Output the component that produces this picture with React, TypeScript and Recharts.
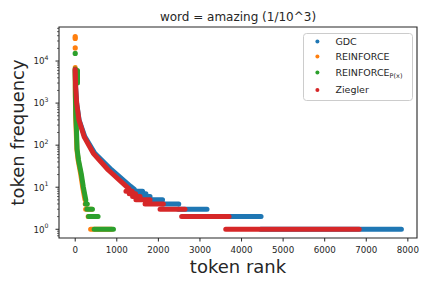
import {
  ComposedChart,
  Line,
  Scatter,
  XAxis,
  YAxis,
  ReferenceArea,
  Legend,
  Label,
} from "recharts";

const TITLE = "word = amazing (1/10^3)";
const INK = "#262626";
const FONT = "DejaVu Sans";

const xTicks = [0, 1000, 2000, 3000, 4000, 5000, 6000, 7000, 8000];
const yTicks = [
  0.7, 0.8, 0.9, 1, 2, 3, 4, 5, 6, 7, 8, 9, 10, 20, 30, 40, 50, 60, 70, 80, 90,
  100, 200, 300, 400, 500, 600, 700, 800, 900, 1000, 2000, 3000, 4000, 5000,
  6000, 7000, 8000, 9000, 10000, 20000, 30000, 40000, 50000, 60000,
];

// GDC
const gdcCurveRank = [0, 10, 35, 95, 230, 470, 870, 1330, 1420];
const gdcCurveFreq = [6000, 2400, 980, 390, 160, 64, 26, 10.5, 9];
const gdcStepFreq = [8, 7, 6, 5, 4, 3, 2, 1];
const gdcStepStart = [1400, 1500, 1600, 1780, 2090, 2480, 3160, 4460];
const gdcStepEnd = [1620, 1700, 1800, 2100, 2490, 3170, 4470, 7845];

// REINFORCE
const rfCurveRank = [0, 3, 12, 25, 40, 70, 130, 180, 235];
const rfCurveFreq = [7000, 1400, 440, 200, 80, 44, 21, 10, 5];
const rfStepFreq = [4, 3, 2, 1];
const rfStepStart = [240, 250, 310, 370];
const rfStepEnd = [280, 400, 520, 880];
const rfOutlierRank = [0, 0, 0];
const rfOutlierFreq = [38000, 34500, 20500];

// REINFORCE P(x)
const pxCurveRank = [0, 5, 15, 30, 45, 80, 145, 195, 255];
const pxCurveFreq = [6500, 1500, 500, 230, 80, 44, 21, 10, 5];
const pxStepFreq = [4, 3, 2, 1];
const pxStepStart = [250, 280, 320, 455];
const pxStepEnd = [290, 415, 550, 920];
const pxExtraRank = [55, 55];
const pxExtraFreq = [6000, 3000];
const pxOutlierRank = [0];
const pxOutlierFreq = [15200];

// Ziegler
const zieCurveRank = [0, 10, 35, 90, 215, 435, 795, 1235, 1300];
const zieCurveFreq = [6300, 2450, 990, 395, 158, 64, 25.7, 10.3, 9];
const zieStepFreq = [8, 7, 6, 5, 4, 3, 2, 1];
const zieStepStart = [1220, 1300, 1380, 1460, 1680, 2040, 2560, 3620];
const zieStepEnd = [1370, 1450, 1560, 1800, 2120, 2640, 3700, 6830];

const legendItems = [
  { name: "GDC", sub: "", color: "#1f77b4" },
  { name: "REINFORCE", sub: "", color: "#ff7f0e" },
  { name: "REINFORCE", sub: "P(x)", color: "#2ca02c" },
  { name: "Ziegler", sub: "", color: "#d62728" },
];

type Pt = { rank: number; f: number | null };

function build(
  curveRank: number[],
  curveFreq: number[],
  stepFreq: number[],
  stepStart: number[],
  stepEnd: number[],
  extraRank: number[] = [],
  extraFreq: number[] = []
): Pt[] {
  const pts: Pt[] = curveRank.map((r, i) => ({ rank: r, f: curveFreq[i] }));
  stepFreq.forEach((f, i) => {
    pts.push({ rank: stepStart[i], f: null });
    pts.push({ rank: stepStart[i], f });
    pts.push({ rank: stepEnd[i], f });
  });
  if (extraRank.length) {
    pts.push({ rank: extraRank[0], f: null });
    extraRank.forEach((r, i) => pts.push({ rank: r, f: extraFreq[i] }));
  }
  return pts;
}

const gdcData = build(gdcCurveRank, gdcCurveFreq, gdcStepFreq, gdcStepStart, gdcStepEnd);
const rfData = build(rfCurveRank, rfCurveFreq, rfStepFreq, rfStepStart, rfStepEnd);
const pxData = build(pxCurveRank, pxCurveFreq, pxStepFreq, pxStepStart, pxStepEnd, pxExtraRank, pxExtraFreq);
const zieData = build(zieCurveRank, zieCurveFreq, zieStepFreq, zieStepStart, zieStepEnd);
const rfOutliers = rfOutlierRank.map((r, i) => ({ rank: r, f: rfOutlierFreq[i] }));
const pxOutliers = pxOutlierRank.map((r, i) => ({ rank: r, f: pxOutlierFreq[i] }));

const YTick = (props: any) => {
  const { x, y, payload } = props;
  const lg = Math.log10(payload.value);
  const exp = Math.round(lg);
  const major = Math.abs(lg - exp) < 1e-6;
  return (
    <g>
      <line x1={x} x2={x - (major ? 3.5 : 2)} y1={y} y2={y} stroke={INK} strokeWidth={major ? 1 : 0.7} />
      {major && (
        <text x={x - 10.5} y={y + 3.3} textAnchor="end" fill={INK} fontSize={8.7} fontFamily={FONT}>
          10
          <tspan dy={-4.2} fontSize={6.2}>{exp}</tspan>
        </text>
      )}
    </g>
  );
};

const XTick = (props: any) => {
  const { x, y, payload } = props;
  return (
    <g>
      <line x1={x} x2={x} y1={y} y2={y + 3.5} stroke={INK} strokeWidth={1} />
      <text x={x} y={y + 15.2} textAnchor="middle" fill={INK} fontSize={8.7} fontFamily={FONT}>
        {payload.value}
      </text>
    </g>
  );
};

const Dot = (color: string) => (props: any) =>
  <circle cx={props.cx} cy={props.cy} r={2.6} fill={color} />;

const renderLegend = () => (
  <svg width={110} height={68}>
    <rect x={0.5} y={0.5} width={109} height={67} rx={3} fill="#fff" fillOpacity={0.8} stroke="#cccccc" />
    {legendItems.map((it, i) => {
      const dotY = [8.6, 23.6, 39.6, 57][i];
      const baseY = [12, 26.6, 42.6, 59.6][i];
      return (
        <g key={i}>
          <circle cx={14.4} cy={dotY} r={2} fill={it.color} />
          <text x={32.4} y={baseY} fill={INK} fontSize={9.5} fontFamily={FONT}>
            {it.name}
            {it.sub && (
              <tspan dy={2} fontSize={6.5}>{it.sub}</tspan>
            )}
          </text>
        </g>
      );
    })}
  </svg>
);

const series = (data: Pt[], color: string, name: string) => (
  <Line
    data={data}
    dataKey="f"
    name={name}
    type="linear"
    stroke={color}
    strokeWidth={5}
    strokeLinecap="round"
    strokeLinejoin="round"
    dot={false}
    activeDot={false}
    isAnimationActive={false}
  />
);

export default function App() {
  return (
    <div>
      <style>{"body{margin:0}"}</style>
      <ComposedChart width={432} height={288} margin={{ top: 27, right: 15, bottom: 0, left: 0 }}>
        <XAxis
          type="number"
          dataKey="rank"
          domain={[-390, 8220]}
          ticks={xTicks}
          interval={0}
          allowDataOverflow
          axisLine={false}
          tickLine={false}
          tickSize={0}
          tickMargin={0}
          tick={<XTick />}
          height={50}
        >
          <Label
            content={(p: any) => (
              <text
                x={p.viewBox.x + p.viewBox.width / 2}
                y={p.viewBox.y + 34.7}
                textAnchor="middle"
                fill={INK}
                fontSize={18}
                fontFamily={FONT}
              >
                token rank
              </text>
            )}
          />
        </XAxis>
        <YAxis
          type="number"
          scale="log"
          domain={[0.62, 64500]}
          ticks={yTicks}
          interval={0}
          allowDataOverflow
          axisLine={false}
          tickLine={false}
          tickSize={0}
          tickMargin={0}
          tick={<YTick />}
          width={59}
        >
          <Label
            content={(p: any) => {
              const cx = 23.5;
              const cy = p.viewBox.y + p.viewBox.height / 2;
              return (
                <text
                  x={cx}
                  y={cy}
                  transform={`rotate(-90, ${cx}, ${cy})`}
                  textAnchor="middle"
                  fill={INK}
                  fontSize={18}
                  fontFamily={FONT}
                >
                  token frequency
                </text>
              );
            }}
          />
        </YAxis>
        {series(gdcData, legendItems[0].color, "GDC")}
        {series(rfData, legendItems[1].color, "REINFORCE")}
        {series(pxData, legendItems[2].color, "REINFORCE P(x)")}
        {series(zieData, legendItems[3].color, "Ziegler")}
        <Scatter data={rfOutliers} dataKey="f" shape={Dot(legendItems[1].color)} isAnimationActive={false} />
        <Scatter data={pxOutliers} dataKey="f" shape={Dot(legendItems[2].color)} isAnimationActive={false} />
        <ReferenceArea
          x1={-390}
          x2={8220}
          y1={0.62}
          y2={64500}
          fill="none"
          stroke={INK}
          strokeWidth={1.1}
          label={{
            value: TITLE,
            position: "top",
            offset: 6,
            fill: INK,
            fontSize: 12,
            fontFamily: FONT,
          }}
        />
        <Legend
          layout="vertical"
          align="center"
          verticalAlign="middle"
          content={renderLegend}
          wrapperStyle={{ left: 303, top: 33, width: 110, height: 68 }}
        />
      </ComposedChart>
    </div>
  );
}
